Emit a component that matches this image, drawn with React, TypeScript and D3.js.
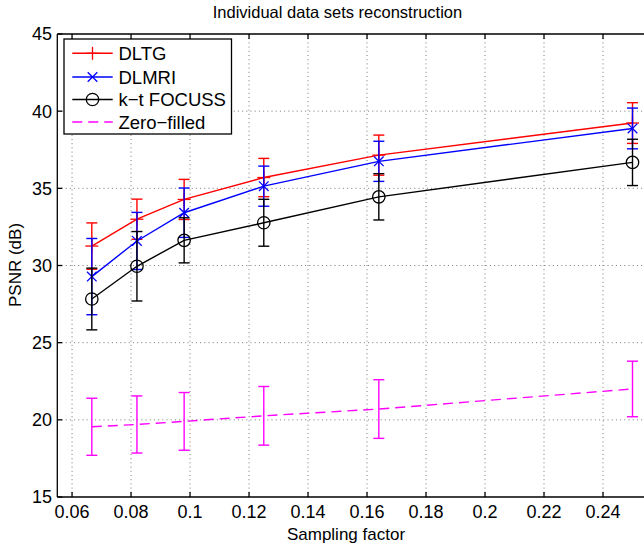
import React from "react";
import * as d3 from "d3";

// Sampling factors and PSNR statistics (mean ± std) per method
const sampling = [0.0667, 0.082, 0.098, 0.125, 0.164, 0.25];
const dltgMean = [31.26, 33.0, 34.28, 35.7, 37.15, 39.23];
const dltgErr = [1.5, 1.3, 1.3, 1.24, 1.3, 1.32];
const dlmriMean = [29.28, 31.59, 33.42, 35.14, 36.75, 38.88];
const dlmriErr = [2.47, 1.85, 1.6, 1.3, 1.3, 1.32];
const ktMean = [27.83, 29.95, 31.63, 32.77, 34.45, 36.68];
const ktErr = [2.0, 2.25, 1.46, 1.52, 1.5, 1.5];
const zfMean = [19.55, 19.7, 19.9, 20.26, 20.7, 22.0];
const zfErr = [1.85, 1.85, 1.87, 1.9, 1.9, 1.8];

const xTicks = [0.06, 0.08, 0.1, 0.12, 0.14, 0.16, 0.18, 0.2, 0.22, 0.24];
const xTickLabels = ["0.06", "0.08", "0.1", "0.12", "0.14", "0.16", "0.18", "0.2", "0.22", "0.24"];
const yTicks = [15, 20, 25, 30, 35, 40, 45];

const W = 644;
const H = 548;
const left = 57.3;
const right = 662;
const top = 34;
const bottom = 497;

const FONT = "'Liberation Sans', Arial, Helvetica, sans-serif";

type Series = {
  name: string;
  color: string;
  mean: number[];
  err: number[];
  marker: "plus" | "cross" | "circle" | "none";
  dash?: string;
};

const series: Series[] = [
  { name: "DLTG", color: "#ff0000", mean: dltgMean, err: dltgErr, marker: "plus" },
  { name: "DLMRI", color: "#0000ff", mean: dlmriMean, err: dlmriErr, marker: "cross" },
  { name: "k\u2212t FOCUSS", color: "#000000", mean: ktMean, err: ktErr, marker: "circle" },
  { name: "Zero\u2212filled", color: "#ff00ff", mean: zfMean, err: zfErr, marker: "none", dash: "10,6" },
];

function Marker({ kind, x, y, color }: { kind: Series["marker"]; x: number; y: number; color: string }) {
  if (kind === "plus") {
    const s = 6.5;
    return (
      <g stroke={color} strokeWidth={1.3}>
        <line x1={x - s} x2={x + s} y1={y} y2={y} />
        <line x1={x} x2={x} y1={y - s} y2={y + s} />
      </g>
    );
  }
  if (kind === "cross") {
    const s = 4.8;
    return (
      <g stroke={color} strokeWidth={1.3}>
        <line x1={x - s} x2={x + s} y1={y - s} y2={y + s} />
        <line x1={x - s} x2={x + s} y1={y + s} y2={y - s} />
      </g>
    );
  }
  if (kind === "circle") {
    return <circle cx={x} cy={y} r={6.2} fill="none" stroke={color} strokeWidth={1.3} />;
  }
  return null;
}

export default function App() {
  const x = d3.scaleLinear().domain([0.055, 0.26]).range([left, right]);
  const y = d3.scaleLinear().domain([15, 45]).range([bottom, top]);

  const line = d3
    .line<number>()
    .x((_, i) => x(sampling[i]))
    .y((d) => y(d));

  const cap = 5.5;
  const legX = 64;
  const legY = 39;
  const legW = 167.5;
  const legH = 95;
  const legRows = [53.3, 77, 99.5, 122];

  return (
    <svg
      width={W}
      height={H}
      viewBox={`0 0 ${W} ${H}`}
      style={{ position: "absolute", left: 0, top: 0, background: "#fff" }}
      fontFamily={FONT}
    >
      <rect x={0} y={0} width={W} height={H} fill="#fff" />
      {/* grid */}
      <g stroke="#555" strokeWidth={0.8} strokeDasharray="1,3.2">
        {xTicks.map((t) => (
          <line key={"gx" + t} x1={x(t)} x2={x(t)} y1={top} y2={bottom} />
        ))}
        {yTicks.slice(1, -1).map((t) => (
          <line key={"gy" + t} x1={left} x2={right} y1={y(t)} y2={y(t)} />
        ))}
      </g>

      {/* series */}
      {series.map((s) => (
        <g key={s.name}>
          <path
            d={line(s.mean) || ""}
            fill="none"
            stroke={s.color}
            strokeWidth={1.4}
            strokeDasharray={s.dash}
          />
          <g stroke={s.color} strokeWidth={1.4}>
            {s.mean.map((m, i) => {
              const cx = x(sampling[i]);
              const y1 = y(m + s.err[i]);
              const y2 = y(m - s.err[i]);
              return (
                <g key={i}>
                  <line x1={cx} x2={cx} y1={y1} y2={y2} />
                  <line x1={cx - cap} x2={cx + cap} y1={y1} y2={y1} />
                  <line x1={cx - cap} x2={cx + cap} y1={y2} y2={y2} />
                </g>
              );
            })}
          </g>
          {s.mean.map((m, i) => (
            <Marker key={"m" + i} kind={s.marker} x={x(sampling[i])} y={y(m)} color={s.color} />
          ))}
        </g>
      ))}

      {/* axes box and ticks */}
      <g stroke="#000" strokeWidth={1.3} fill="none">
        <line x1={left} x2={right} y1={bottom} y2={bottom} />
        <line x1={left} x2={right} y1={top} y2={top} />
        <line x1={left} x2={left} y1={top} y2={bottom} />
        {xTicks.map((t) => (
          <g key={"tx" + t}>
            <line x1={x(t)} x2={x(t)} y1={bottom} y2={bottom - 5} />
            <line x1={x(t)} x2={x(t)} y1={top} y2={top + 5} />
          </g>
        ))}
        {yTicks.map((t) => (
          <line key={"ty" + t} x1={left} x2={left + 5} y1={y(t)} y2={y(t)} />
        ))}
      </g>

      {/* tick labels */}
      <g fontSize={18} fill="#000">
        {xTicks.map((t, i) => (
          <text key={"lx" + t} x={x(t)} y={518} textAnchor="middle">
            {xTickLabels[i]}
          </text>
        ))}
        {yTicks.map((t) => (
          <text key={"ly" + t} x={52} y={y(t)} dy="0.36em" textAnchor="end">
            {t}
          </text>
        ))}
      </g>

      {/* titles */}
      <text x={337.5} y={18} fontSize={16.5} textAnchor="middle" fill="#000">
        Individual data sets reconstruction
      </text>
      <text x={346} y={540} fontSize={17} textAnchor="middle" fill="#000">
        Sampling factor
      </text>
      <text
        x={0}
        y={0}
        fontSize={17}
        textAnchor="middle"
        fill="#000"
        transform={`translate(21,265) rotate(-90)`}
      >
        PSNR (dB)
      </text>

      {/* legend */}
      <rect x={legX} y={legY} width={legW} height={legH} fill="#fff" stroke="#000" strokeWidth={1.3} />
      {series.map((s, i) => (
        <g key={"lg" + s.name}>
          <line
            x1={72.3}
            x2={112.7}
            y1={legRows[i]}
            y2={legRows[i]}
            stroke={s.color}
            strokeWidth={1.4}
            strokeDasharray={s.dash}
          />
          <Marker kind={s.marker} x={92.5} y={legRows[i]} color={s.color} />
          <text x={118.5} y={legRows[i]} dy="0.36em" fontSize={18.5} fill="#000">
            {s.name}
          </text>
        </g>
      ))}
    </svg>
  );
}
